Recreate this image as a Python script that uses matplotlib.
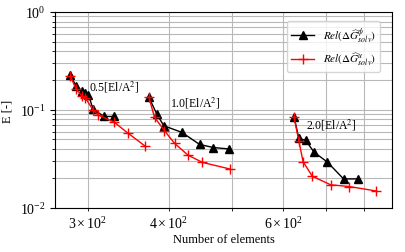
import matplotlib
matplotlib.use("Agg")
import matplotlib.pyplot as plt

plt.rcParams['font.family'] = ['Liberation Serif', 'DejaVu Serif']
plt.rcParams['mathtext.fontset'] = 'stix'
plt.rcParams['font.size'] = 9

# Group 0.5 [El/A^2]
phi_x_05 = [281.9, 287.4, 293.7, 297.3, 300.5, 305.4, 317.5, 328.9]
phi_y_05 = [0.2275, 0.1758, 0.1563, 0.149, 0.1423, 0.1024, 0.0859, 0.0859]
u_x_05 = [281.9, 287.4, 293.7, 297.3, 305.4, 311.0, 328.9, 345.6, 367.2]
u_y_05 = [0.222, 0.1638, 0.139, 0.1325, 0.100, 0.0889, 0.0755, 0.0582, 0.043]

# Group 1.0 [El/A^2]
phi_x_10 = [372.5, 383.0, 392.7, 419.0, 446.0, 468.2, 495.3]
phi_y_10 = [0.1348, 0.091, 0.0691, 0.059, 0.0445, 0.0414, 0.040]
u_x_10 = [372.5, 380.0, 393.7, 408.0, 427.8, 450.4, 496.6]
u_y_10 = [0.1348, 0.0842, 0.0615, 0.0457, 0.0347, 0.0292, 0.025]

# Group 2.0 [El/A^2]
phi_x_20 = [623.8, 634.7, 650.0, 670.2, 702.0, 744.0, 784.1]
phi_y_20 = [0.0855, 0.0512, 0.0491, 0.037, 0.0295, 0.0198, 0.0198]
u_x_20 = [623.8, 634.7, 644.2, 665.6, 710.4, 758.6, 836.0]
u_y_20 = [0.0855, 0.0481, 0.0298, 0.0211, 0.01725, 0.01656, 0.0149]

labels = [r'0.5[El/A$^2$]', r'1.0[El/A$^2$]', r'2.0[El/A$^2$]']
label_x = [301, 402, 652]
label_y = [0.176, 0.121, 0.072]

fig = plt.figure(figsize=(4.05, 2.53), dpi=100)
ax = fig.add_axes([0.1358, 0.174, 0.832, 0.7746])

groups = [(phi_x_05, phi_y_05, u_x_05, u_y_05),
          (phi_x_10, phi_y_10, u_x_10, u_y_10),
          (phi_x_20, phi_y_20, u_x_20, u_y_20)]
for i, (px, py, ux, uy) in enumerate(groups):
    ax.plot(px, py, color='black', marker='^', markersize=6, linewidth=1,
            label=r'$Rel(\Delta\widehat{G}^{\phi}_{solv})$' if i == 0 else None)
    ax.plot(ux, uy, color='red', marker='+', markersize=7, linewidth=1,
            label=r'$Rel(\Delta\widehat{G}^{u}_{solv})$' if i == 0 else None)
    ax.text(label_x[i], label_y[i], labels[i], ha='left', va='center', fontsize=8.5)

ax.set_xscale('log')
ax.set_yscale('log')
ax.set_xlim(266.8, 883.6)
ax.set_ylim(1e-2, 1)
ax.grid(True, which='both', color='#b8b8b8', linewidth=0.8)
ax.set_axisbelow(True)
ax.tick_params(axis='both', which='both', labelsize=10)
ax.set_xlabel('Number of elements', labelpad=1)
ax.set_ylabel('E [-]')
ax.legend(loc='upper right', fontsize=8, labelspacing=0.6,
          borderaxespad=0.6, bbox_to_anchor=(0.985, 0.99))

fig.savefig('out.png', dpi=100)
